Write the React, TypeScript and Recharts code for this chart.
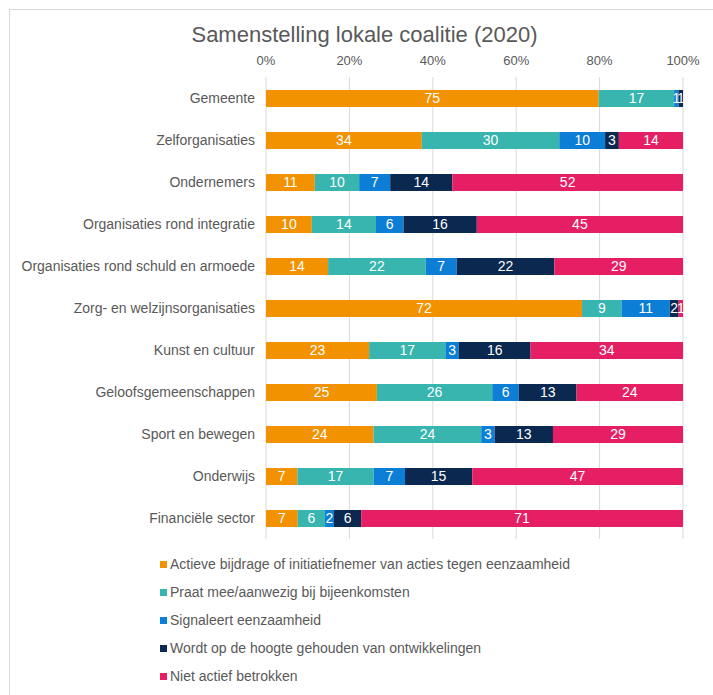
import React from "react";
import { BarChart, Bar, XAxis, YAxis, CartesianGrid, LabelList, Legend } from "recharts";

const categories = [
  "Gemeente",
  "Zelforganisaties",
  "Ondernemers",
  "Organisaties rond integratie",
  "Organisaties rond schuld en armoede",
  "Zorg- en welzijnsorganisaties",
  "Kunst en cultuur",
  "Geloofsgemeenschappen",
  "Sport en bewegen",
  "Onderwijs",
  "Financiële sector",
];
const actief = [75, 34, 11, 10, 14, 72, 23, 25, 24, 7, 7];
const praat = [17, 30, 10, 14, 22, 9, 17, 26, 24, 17, 6];
const signaleert = [1, 10, 7, 6, 7, 11, 3, 6, 3, 7, 2];
const wordt = [1, 3, 14, 16, 22, 2, 16, 13, 13, 15, 6];
const niet = [0, 14, 52, 45, 29, 1, 34, 24, 29, 47, 71];

const seriesNames = [
  "Actieve bijdrage of initiatiefnemer van acties tegen eenzaamheid",
  "Praat mee/aanwezig bij bijeenkomsten",
  "Signaleert eenzaamheid",
  "Wordt op de hoogte gehouden van ontwikkelingen",
  "Niet actief betrokken",
];
const xTicks = [0, 0.2, 0.4, 0.6, 0.8, 1];

const colors = ["#F39200", "#37B5AE", "#0C7ED6", "#0A2850", "#E61F65"];
const keys = ["actief", "praat", "signaleert", "wordt", "niet"];

const data = categories.map((c, i) => ({
  name: c,
  actief: actief[i],
  praat: praat[i],
  signaleert: signaleert[i],
  wordt: wordt[i],
  niet: niet[i],
}));

const FONT = "'Liberation Sans', Arial, sans-serif";
const TEXT = "#595959";

const LegendContent = () => (
  <div style={{ fontFamily: FONT, fontSize: 14, color: TEXT }}>
    {seriesNames.map((n, i) => (
      <div key={n} style={{ height: 28, display: "flex", alignItems: "center" }}>
        <span
          style={{
            display: "inline-block",
            width: 7,
            height: 7,
            background: colors[i],
            marginRight: 3,
          }}
        />
        <span>{n}</span>
      </div>
    ))}
  </div>
);

export default function App() {
  return (
    <div
      style={{
        position: "absolute",
        left: 0,
        top: 0,
        width: 713,
        height: 695,
        background: "#fff",
        fontFamily: FONT,
      }}
    >
      <div
        style={{
          position: "absolute",
          left: 9,
          top: 9,
          width: 720,
          height: 700,
          borderTop: "1px solid #D9D9D9",
          borderLeft: "1px solid #D9D9D9",
        }}
      />
      <div
        style={{
          position: "absolute",
          left: 0,
          width: 713,
          top: 22,
          textAlign: "center",
          paddingLeft: 16,
          boxSizing: "border-box",
          fontSize: 22,
          color: TEXT,
        }}
      >
        Samenstelling lokale coalitie (2020)
      </div>
      <div style={{ position: "absolute", left: 0, top: 0 }}>
        <BarChart
          width={713}
          height={695}
          data={data}
          layout="vertical"
          stackOffset="expand"
          barSize={17}
          margin={{ top: 57, right: 30, left: 0, bottom: 16 }}
        >
          <CartesianGrid horizontal={false} stroke="#D9D9D9" />
          <XAxis
            type="number"
            orientation="top"
            domain={[0, 1]}
            ticks={xTicks}
            tickFormatter={(v: number) => `${Math.round(v * 100)}%`}
            axisLine={false}
            tickLine={false}
            tickSize={0}
            tickMargin={12}
            height={20}
            tick={{ fill: TEXT, fontSize: 13, fontFamily: FONT }}
          />
          <YAxis
            type="category"
            dataKey="name"
            width={266}
            axisLine={false}
            tickLine={false}
            tickSize={0}
            tickMargin={11}
            interval={0}
            tick={{ fill: TEXT, fontSize: 14, fontFamily: FONT }}
          />
          {keys.map((k, i) => (
            <Bar
              key={k}
              dataKey={k}
              name={seriesNames[i]}
              stackId="a"
              fill={colors[i]}
              isAnimationActive={false}
            >
              <LabelList
                dataKey={k}
                position="center"
                fill="#FFFFFF"
                style={{ fontSize: 14, fontFamily: FONT }}
              />
            </Bar>
          ))}
          <Legend
            layout="vertical"
            content={LegendContent}
            wrapperStyle={{ position: "absolute", left: 160, top: 550, width: 500 }}
          />
        </BarChart>
      </div>
    </div>
  );
}
